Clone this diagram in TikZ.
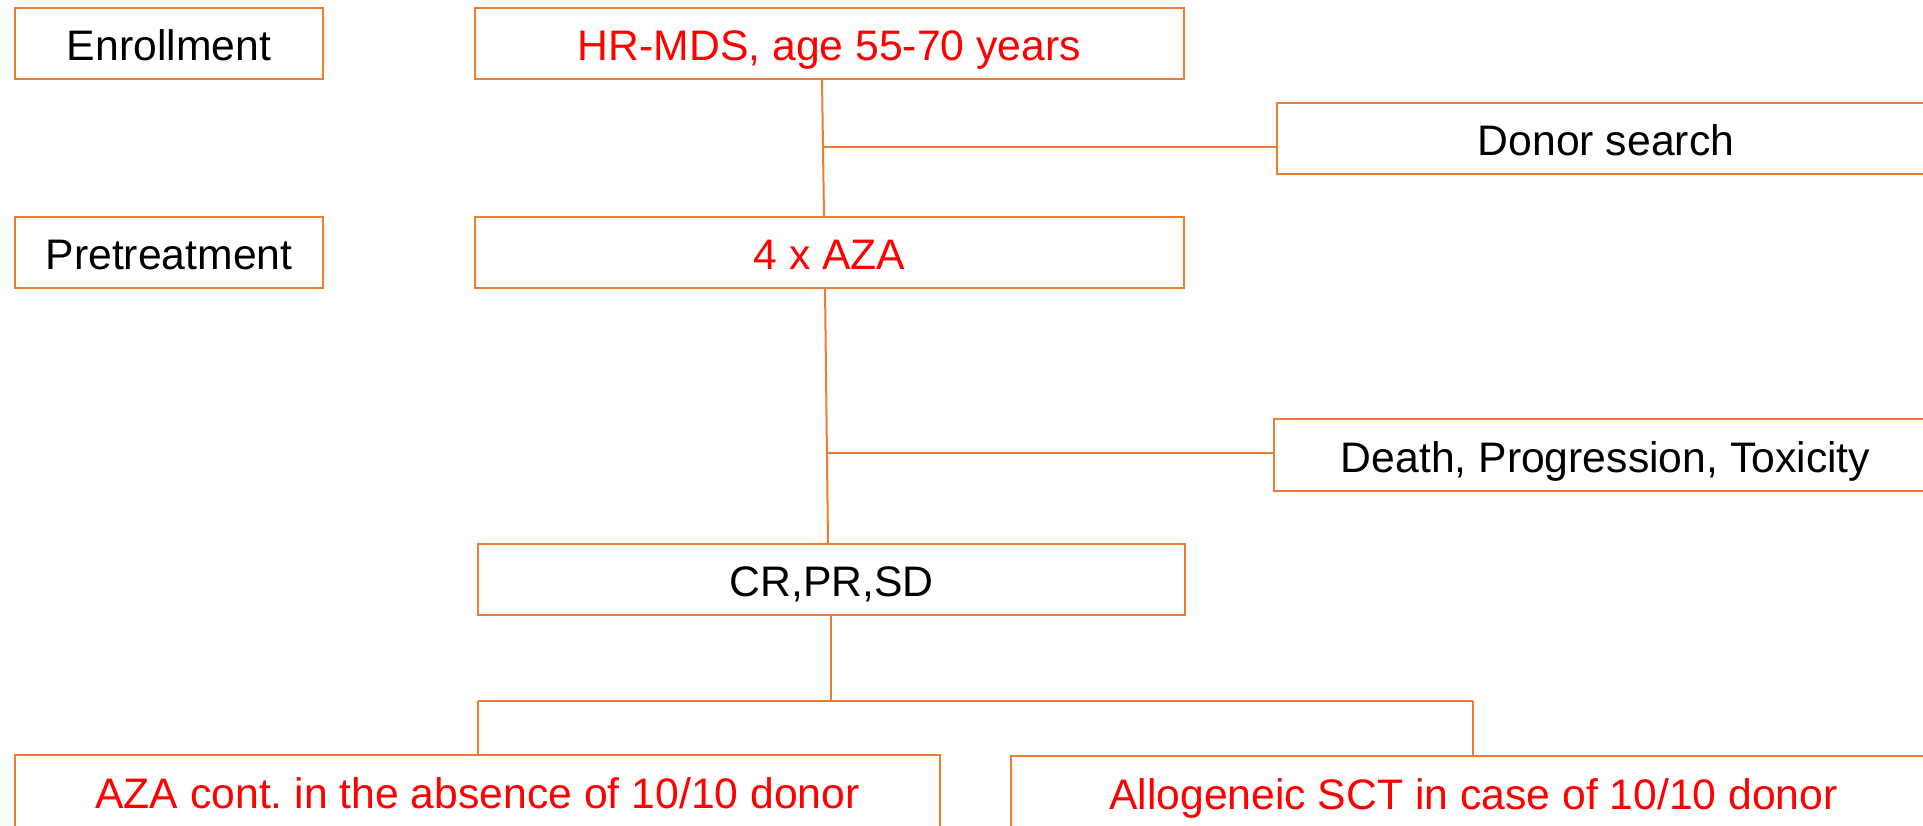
\documentclass[tikz,border=0pt]{standalone}
\usepackage{fontspec}
\setmainfont{Liberation Sans}
\definecolor{boxorange}{HTML}{ED7D31}
\definecolor{txtred}{HTML}{FF0000}
\begin{document}
\frenchspacing
\begin{tikzpicture}[x=1pt,y=-1pt,
  box/.style={draw=boxorange,line width=2pt,rectangle,inner sep=0pt,
    font=\fontsize{42.7}{50}\selectfont,text=black,minimum height=71pt,
    text height=34pt,text depth=0pt},
  redtxt/.style={text=txtred},
  conn/.style={draw=boxorange,line width=2pt}]
\useasboundingbox (0,0) rectangle (1923,825);
\clip (0,0) rectangle (1923,825);
\node[box,minimum width=308pt] (enr) at (169,43.5) {Enrollment};
\node[box,redtxt,minimum width=709pt] (hr) at (829.5,43.5) {HR-MDS, age 55-70 years};
\node[box,minimum width=658pt] (donor) at (1606,138.5) {Donor search};
\node[box,minimum width=308pt] (pre) at (169,252.5) {Pretreatment};
\node[box,redtxt,minimum width=709pt] (aza) at (829.5,252.5) {4 x AZA};
\node[box,minimum width=663pt,minimum height=72pt] (death) at (1605.5,455) {Death, Progression, Toxicity};
\node[box,minimum width=707pt] (cr) at (831.5,579.5) {CR,PR,SD};
\node[box,redtxt,minimum width=925pt,minimum height=72pt] (cont) at (477.5,791) {AZA cont. in the absence of 10/10 donor};
\node[box,redtxt,minimum width=925pt,minimum height=72pt] (allo) at (1473.5,792) {Allogeneic SCT in case of 10/10 donor};
% connectors
\coordinate (h1) at (822,79);
\coordinate (a1) at (824,217);
\coordinate (j1) at (823,147);
\draw[conn] (h1) -- (a1);
\draw[conn] (j1) -- (j1 -| donor.west);
\coordinate (a2) at (825,288);
\coordinate (c1) at (828,544);
\coordinate (j2) at (826.5,453);
\draw[conn] (a2) -- (c1);
\draw[conn] (j2) -- (j2 -| death.west);
\coordinate (c2) at (831,615);
\coordinate (j3) at (831,701);
\coordinate (jl) at (478,701);
\coordinate (jr) at (1473,701);
\draw[conn] (c2) -- (j3);
\draw[conn] (jl) -- (jr);
\draw[conn] (jl) -- (jl |- cont.north);
\draw[conn] (jr) -- (jr |- allo.north);
\end{tikzpicture}
\end{document}
